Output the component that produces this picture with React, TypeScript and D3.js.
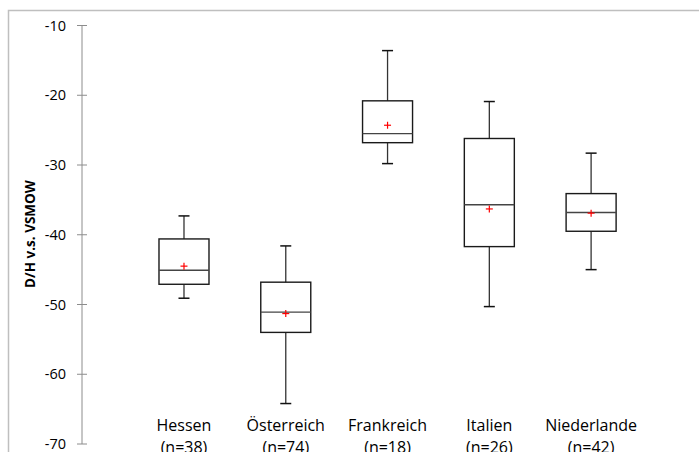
import React from "react";
import * as d3 from "d3";

const categories = ["Hessen", "Österreich", "Frankreich", "Italien", "Niederlande"];
const counts = ["(n=38)", "(n=74)", "(n=18)", "(n=26)", "(n=42)"];
const whiskerLow = [-49.1, -64.2, -29.8, -50.3, -45.0];
const q1 = [-47.1, -54.0, -26.8, -41.7, -39.5];
const median = [-45.1, -51.1, -25.5, -35.7, -36.8];
const q3 = [-40.6, -46.8, -20.8, -26.2, -34.1];
const whiskerHigh = [-37.3, -41.6, -13.6, -20.9, -28.3];
const means = [-44.5, -51.3, -24.3, -36.3, -36.9];
const yTicks = [-10, -20, -30, -40, -50, -60, -70];

const W = 699;
const H = 452;
const FONT = "'Open Sans', 'Liberation Sans', sans-serif";

export default function App() {
  const y = d3.scaleLinear().domain([-70, -10]).range([444, 25.5]);
  const x = d3.scaleBand<string>().domain(categories).range([133.1, 642]).paddingInner(0);
  const axisX = 82;
  const boxW = 50;
  const capW = 11;
  const m = 3.5;

  return (
    <svg
      width={W}
      height={H}
      style={{ position: "absolute", left: 0, top: 0, background: "#fff" }}
      fontFamily={FONT}
    >
      <rect x={8.5} y={10.5} width={W + 20} height={H + 20} fill="#fff" stroke="#bfbfbf" strokeWidth={1.5} />
      {/* y axis */}
      <line x1={axisX} x2={axisX} y1={y(-10)} y2={y(-70)} stroke="#8c8c8c" strokeWidth={1} />
      {yTicks.map((t) => (
        <g key={t}>
          <line x1={axisX - 5} x2={axisX + 5} y1={y(t)} y2={y(t)} stroke="#8c8c8c" strokeWidth={1} />
          <text x={66} y={y(t)} dy="0.35em" textAnchor="end" fontSize={14.5} fill="#000">
            {t}
          </text>
        </g>
      ))}
      <text
        transform={`translate(34.5,234) rotate(-90)`}
        textAnchor="middle"
        fontSize={13.5}
        fontWeight="bold"
        fill="#000"
      >
        D/H v.s. VSMOW
      </text>
      {categories.map((c, i) => {
        const cx = (x(c) as number) + x.bandwidth() / 2;
        return (
          <g key={c}>
            {/* whiskers */}
            <line x1={cx} x2={cx} y1={y(whiskerHigh[i])} y2={y(q3[i])} stroke="#333" strokeWidth={1.3} />
            <line x1={cx} x2={cx} y1={y(q1[i])} y2={y(whiskerLow[i])} stroke="#333" strokeWidth={1.3} />
            <line x1={cx - capW / 2} x2={cx + capW / 2} y1={y(whiskerHigh[i])} y2={y(whiskerHigh[i])} stroke="#111" strokeWidth={1.5} />
            <line x1={cx - capW / 2} x2={cx + capW / 2} y1={y(whiskerLow[i])} y2={y(whiskerLow[i])} stroke="#111" strokeWidth={1.5} />
            {/* box */}
            <rect
              x={cx - boxW / 2}
              y={y(q3[i])}
              width={boxW}
              height={y(q1[i]) - y(q3[i])}
              fill="none"
              stroke="#1a1a1a"
              strokeWidth={1.4}
            />
            <line x1={cx - boxW / 2} x2={cx + boxW / 2} y1={y(median[i])} y2={y(median[i])} stroke="#444" strokeWidth={1.4} />
            {/* mean */}
            <line x1={cx - m} x2={cx + m} y1={y(means[i])} y2={y(means[i])} stroke="#ff0000" strokeWidth={1.2} />
            <line x1={cx} x2={cx} y1={y(means[i]) - m} y2={y(means[i]) + m} stroke="#ff0000" strokeWidth={1.2} />
            {/* labels */}
            <text x={cx} y={431} textAnchor="middle" fontSize={16} fill="#000">
              {c}
            </text>
            <text x={cx} y={453} textAnchor="middle" fontSize={16} fill="#000">
              {counts[i]}
            </text>
          </g>
        );
      })}
    </svg>
  );
}
